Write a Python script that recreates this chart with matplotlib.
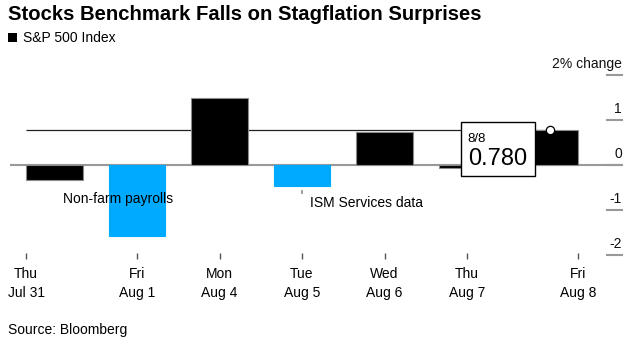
import matplotlib.pyplot as plt
from matplotlib.patches import Rectangle

plt.rcParams['font.family'] = ['Liberation Sans', 'DejaVu Sans']

days = ["Thu\nJul 31", "Fri\nAug 1", "Mon\nAug 4", "Tue\nAug 5",
        "Wed\nAug 6", "Thu\nAug 7", "Fri\nAug 8"]
changes = [-0.33, -1.57, 1.48, -0.47, 0.74, -0.06, 0.78]
highlight = [False, True, False, True, False, False, False]
y_ticks = [2, 1, 0, -1, -2]
y_labels = ["2% change", "1", "0", "-1", "-2"]
notes = ["Non-farm payrolls", "ISM Services data"]
note_days = [1, 3]

BLUE = "#00aaff"
W, H = 630, 341
bar_w = 0.69

fig = plt.figure(figsize=(W / 100, H / 100), dpi=100)
# axes box in pixels: x 10..622, y 70..259
ax = fig.add_axes([10 / W, 1 - 259 / H, 612 / W, 189 / H])
x = list(range(len(changes)))
ax.set_xlim((10 - 54.5) / 82.5, (622 - 54.5) / 82.5)
ax.set_ylim((165 - 259) / 45, (165 - 70) / 45)

# zero line
ax.axhline(0, color="#999999", lw=1.5, zorder=1)

# hover line at the last value
ax.hlines(changes[-1], x[0] - bar_w / 2, x[-1], color="#222222", lw=0.9, zorder=1)

colors = [BLUE if h else "black" for h in highlight]
edges = [BLUE if h else "#8a8a8a" for h in highlight]
ax.bar(x, changes, width=bar_w, color=colors, edgecolor=edges, lw=0.8, zorder=2)

# annotations
ax.text(note_days[0] - 0.9, -0.76, notes[0], fontsize=10, va="center", ha="left", zorder=3)
ax.plot([note_days[1], note_days[1]], [-0.58, -0.63], color="#888888", lw=1.2, zorder=3)
ax.text(note_days[1] + 0.1, -0.85, notes[1], fontsize=10, va="center", ha="left", zorder=3)

# right-hand value axis
tr = ax.get_yaxis_transform()
for v, lab in zip(y_ticks, y_labels):
    ax.plot([(607 - 10) / 612, 1.0], [v, v], color="#999999", lw=1.5, transform=tr,
            clip_on=False, zorder=1)
    ax.annotate(lab, (1.0, v), xycoords=tr, xytext=(0, 3), textcoords="offset points",
                ha="right", va="bottom", fontsize=10, color="#111111")

# tooltip
last = x[-1]
ax.add_patch(Rectangle((last - 1.073, changes[-1] - 1.02), 0.897, 1.2,
                       facecolor="white", edgecolor="black", lw=1, zorder=4))
ax.text(last - 0.99, changes[-1] - 0.27, "8/8", fontsize=9.5, va="baseline", ha="left", zorder=5)
ax.text(last - 0.99, changes[-1] - 0.78, "%.3f" % changes[-1], fontsize=17,
        va="baseline", ha="left", zorder=5)
ax.plot([last], [changes[-1]], marker="o", ms=6, mfc="white", mec="black", mew=0.9, zorder=6)

# x ticks: first/last pinned to bar edges
tick_pos = [x[0] - bar_w / 2] + x[1:-1] + [x[-1] + bar_w / 2]
ax.set_xticks(tick_pos)
ax.set_xticklabels(days, fontsize=10, linespacing=1.4)
ax.set_yticks([])
ax.tick_params(axis="x", direction="in", length=4, width=1, color="#555555", pad=6)
for s in ax.spines.values():
    s.set_visible(False)

fig.text(8 / W, 1 - 15 / H, "Stocks Benchmark Falls on Stagflation Surprises",
         fontsize=14.6, fontweight="bold", va="center", ha="left")
fig.patches.append(Rectangle((8 / W, 1 - 42 / H), 9 / W, 9 / H, facecolor="black",
                             transform=fig.transFigure, figure=fig))
fig.text(23 / W, 1 - 38 / H, "S&P 500 Index", fontsize=10, va="center", ha="left")
fig.text(8 / W, 1 - 330 / H, "Source: Bloomberg", fontsize=10, va="center", ha="left")

fig.savefig("out.png", dpi=100)
